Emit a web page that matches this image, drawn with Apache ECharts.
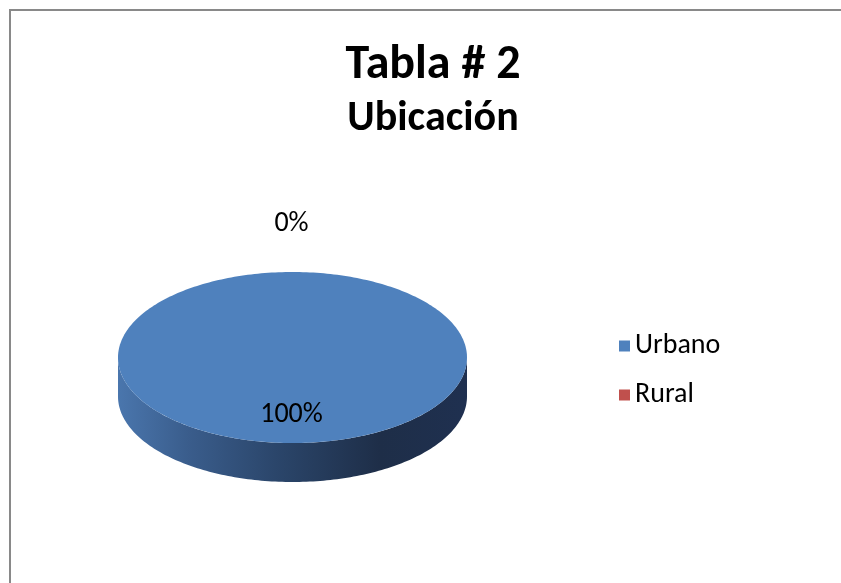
<!DOCTYPE html>
<html>
<head>
<meta charset="utf-8">
<script src="https://cdn.jsdelivr.net/npm/echarts@6/dist/echarts.min.js"></script>
<style>
  html, body { margin: 0; padding: 0; background: #fff; }
  #chart { width: 841px; height: 583px; }
</style>
</head>
<body>
<div id="chart"></div>
<script>
const categories = ['Urbano', 'Rural']
const values = [100, 0]
const colors = ['#4f81bd', '#c0504d']

const FONT = "Carlito, Lato, 'Open Sans', sans-serif"
const total = values.reduce((a, b) => a + b, 0)

// 3D ellipse geometry
const CX = 292.5, CY = 357.5, RX = 174.5, RY = 85.5, DEPTH = 39

function pt(theta, dy) {
  return [CX + RX * Math.sin(theta), CY - RY * Math.cos(theta) + (dy || 0)]
}

function arc(a0, a1, dy) {
  const pts = []
  const n = Math.max(2, Math.ceil((a1 - a0) / 0.02))
  for (let i = 0; i <= n; i++) pts.push(pt(a0 + (a1 - a0) * i / n, dy))
  return pts
}

function makeRender(idx) {
  return function (params, api) {
    const v = api.value(0)
    let before = 0
    for (let i = 0; i < idx; i++) before += values[i]
    const a0 = before / total * Math.PI * 2
    const a1 = (before + v) / total * Math.PI * 2
    const children = []
    const color = colors[idx]
    if (v > 0) {
      // side wall, front half only (90deg..270deg)
      const s0 = Math.max(a0, Math.PI / 2)
      const s1 = Math.min(a1, Math.PI * 1.5)
      if (s1 > s0) {
        const top = arc(s0, s1, 0)
        const bottom = arc(s0, s1, DEPTH).reverse()
        children.push({
          type: 'polygon',
          shape: { points: top.concat(bottom) },
          style: {
            fill: new echarts.graphic.LinearGradient(1, 0, 0, 0, [
              { offset: 0, color: '#1f3050' },
              { offset: 0.25, color: '#1e2e48' },
              { offset: 0.55, color: '#2b466b' },
              { offset: 0.8, color: '#3a5d8c' },
              { offset: 1, color: '#4a76ad' }
            ])
          }
        })
      }
      // top face
      const full = a1 - a0 >= Math.PI * 2 - 1e-6
      const facePts = full ? arc(0, Math.PI * 2, 0) : [[CX, CY]].concat(arc(a0, a1, 0))
      children.push({
        type: 'polygon',
        shape: { points: facePts },
        style: { fill: color }
      })
    }
    // label
    const mid = (a0 + a1) / 2
    const pct = Math.round(v / total * 100) + '%'
    let lp
    if (v / total > 0.5) {
      lp = [CX + RX * 0.65 * Math.sin(mid), CY - RY * 0.65 * Math.cos(mid)]
    } else {
      lp = [CX + (RX + 50) * Math.sin(mid), CY - (RY + 50) * Math.cos(mid)]
    }
    children.push({
      type: 'text',
      x: lp[0] - 1,
      y: lp[1] + 2,
      style: {
        text: pct,
        fill: '#000',
        font: '28px ' + FONT,
        align: 'center',
        verticalAlign: 'middle'
      }
    })
    return { type: 'group', children: children }
  }
}

const chart = echarts.init(document.getElementById('chart'))
chart.setOption({
  backgroundColor: '#fff',
  animation: false,
  title: {
    text: 'Tabla # 2',
    subtext: 'Ubicación',
    left: 433,
    top: 42,
    padding: 0,
    textAlign: 'center',
    itemGap: 8,
    textStyle: { fontFamily: FONT, fontSize: 48, fontWeight: 'bold', color: '#000' },
    subtextStyle: { fontFamily: FONT, fontSize: 42, fontWeight: 'bold', color: '#000' }
  },
  legend: {
    data: categories,
    orient: 'vertical',
    left: 619,
    top: 332,
    padding: 0,
    icon: 'rect',
    itemWidth: 11,
    itemHeight: 11,
    itemGap: 21,
    textStyle: { fontFamily: FONT, fontSize: 28, color: '#000' }
  },
  graphic: [{
    type: 'polyline',
    shape: { points: [[10, 583], [10, 10], [841, 10]] },
    style: { stroke: '#898989', lineWidth: 2, fill: null }
  }],
  series: categories.map((name, i) => ({
    type: 'custom',
    name: name,
    coordinateSystem: 'none',
    itemStyle: { color: colors[i] },
    data: [[values[i]]],
    renderItem: makeRender(i)
  }))
})
</script>
</body>
</html>
